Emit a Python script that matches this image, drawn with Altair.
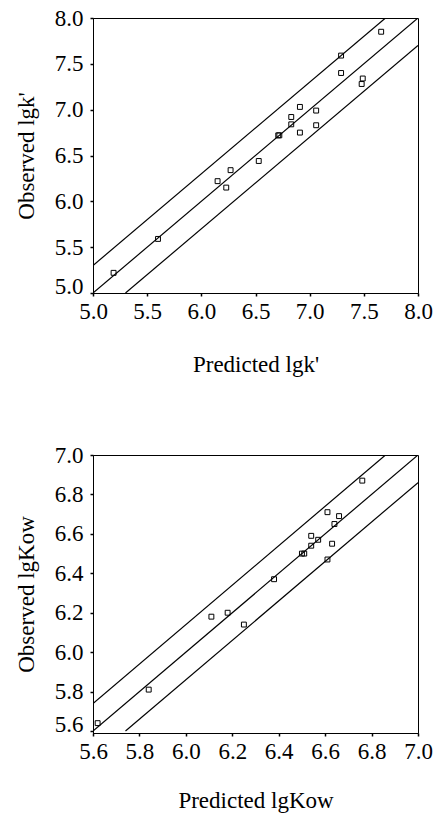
import altair as alt
import pandas as pd

# Retention factor: predicted vs observed lgk'
pred_k = [5.19, 5.60, 6.15, 6.23, 6.27, 6.53, 6.71, 6.72, 6.83, 6.83, 6.91, 6.91,
          7.06, 7.06, 7.29, 7.29, 7.48, 7.49, 7.66]
obs_k = [5.22, 5.59, 6.22, 6.15, 6.34, 6.44, 6.72, 6.72, 6.84, 6.92, 6.75, 7.03,
         6.99, 6.83, 7.59, 7.40, 7.28, 7.34, 7.85]

# Octanol-water partition: predicted vs observed lgKow
pred_kow = [5.62, 5.84, 6.11, 6.18, 6.25, 6.38, 6.50, 6.51, 6.54, 6.54, 6.57,
            6.61, 6.61, 6.63, 6.64, 6.66, 6.76]
obs_kow = [5.64, 5.81, 6.18, 6.20, 6.14, 6.37, 6.50, 6.50, 6.59, 6.54, 6.57,
           6.71, 6.47, 6.55, 6.65, 6.69, 6.87]

# Identity line and the two prediction bounds (x pairs, y pairs)
band_k_x = {"fit": [5.0, 8.0], "upper": [5.0, 7.7], "lower": [5.3, 8.0]}
band_k_y = {"fit": [5.0, 8.0], "upper": [5.3, 8.0], "lower": [5.0, 7.7]}
band_kow_x = {"fit": [5.6, 7.0], "upper": [5.6, 6.86], "lower": [5.74, 7.0]}
band_kow_y = {"fit": [5.6, 7.0], "upper": [5.74, 7.0], "lower": [5.6, 6.86]}

ticks_k = [5.0, 5.5, 6.0, 6.5, 7.0, 7.5, 8.0]
ticks_kow = [5.6, 5.8, 6.0, 6.2, 6.4, 6.6, 6.8, 7.0]

FONT = "Liberation Serif"
FS = 23


def band_frame(bx, by):
    rows = []
    for name in bx:
        for xv, yv in zip(bx[name], by[name]):
            rows.append({"x": xv, "y": yv, "line": name})
    return pd.DataFrame(rows)


def panel(px, py, bx, by, xdom, ydom, ticks, xtitle, ytitle, h, xtitle_pad):
    pts = pd.DataFrame({"x": px, "y": py})
    xs = alt.Scale(domain=xdom, nice=False, zero=False)
    ys = alt.Scale(domain=ydom, nice=False, zero=False)
    xax = alt.Axis(values=ticks, format=".1f", title=xtitle, labelPadding=4,
                   titlePadding=xtitle_pad, labelFlush=False, labelOverlap=False)
    yax = alt.Axis(values=ticks, format=".1f", title=ytitle, labelPadding=7,
                   titlePadding=16, labelFlush=False, labelOverlap=False,
                   labelOffset={"condition": {"test": f"datum.value <= {ticks[0]}",
                                              "value": -7}, "value": 0})
    enc_x = alt.X("x:Q", scale=xs, axis=xax)
    enc_y = alt.Y("y:Q", scale=ys, axis=yax)
    lines = alt.Chart(band_frame(bx, by)).mark_line(
        color="black", strokeWidth=1.2, clip=True
    ).encode(x=enc_x, y=enc_y, detail="line:N")
    dots = alt.Chart(pts).mark_point(
        shape="square", filled=False, color="black", size=24, strokeWidth=1,
        opacity=1
    ).encode(x=enc_x, y=enc_y)
    return (lines + dots).properties(width=325, height=h)


top = panel(pred_k, obs_k, band_k_x, band_k_y, [5.0, 8.0], [5.0, 8.0], ticks_k,
            "Predicted lgk'", "Observed lgk'", 275, 30)
bottom = panel(pred_kow, obs_kow, band_kow_x, band_kow_y, [5.6, 7.0], [5.59, 7.0],
               ticks_kow, "Predicted lgKow", "Observed lgKow", 278, 26)

chart = alt.vconcat(top, bottom, spacing=66).properties(
    padding={"left": 14, "top": 6, "right": 0, "bottom": 0},
    background="white",
).configure_view(
    stroke="black", strokeWidth=1
).configure_axis(
    grid=False,
    labelOverlap=False,
    labelFlush=False,
    domainColor="black",
    domainWidth=1,
    tickColor="black",
    tickSize=3,
    tickWidth=1.5,
    labelFont=FONT,
    labelFontSize=FS,
    labelColor="black",
    titleFont=FONT,
    titleFontSize=FS,
    titleFontWeight="normal",
    titleColor="black",
)

chart.save("out.html", embed_options={"renderer": "svg", "actions": False})
